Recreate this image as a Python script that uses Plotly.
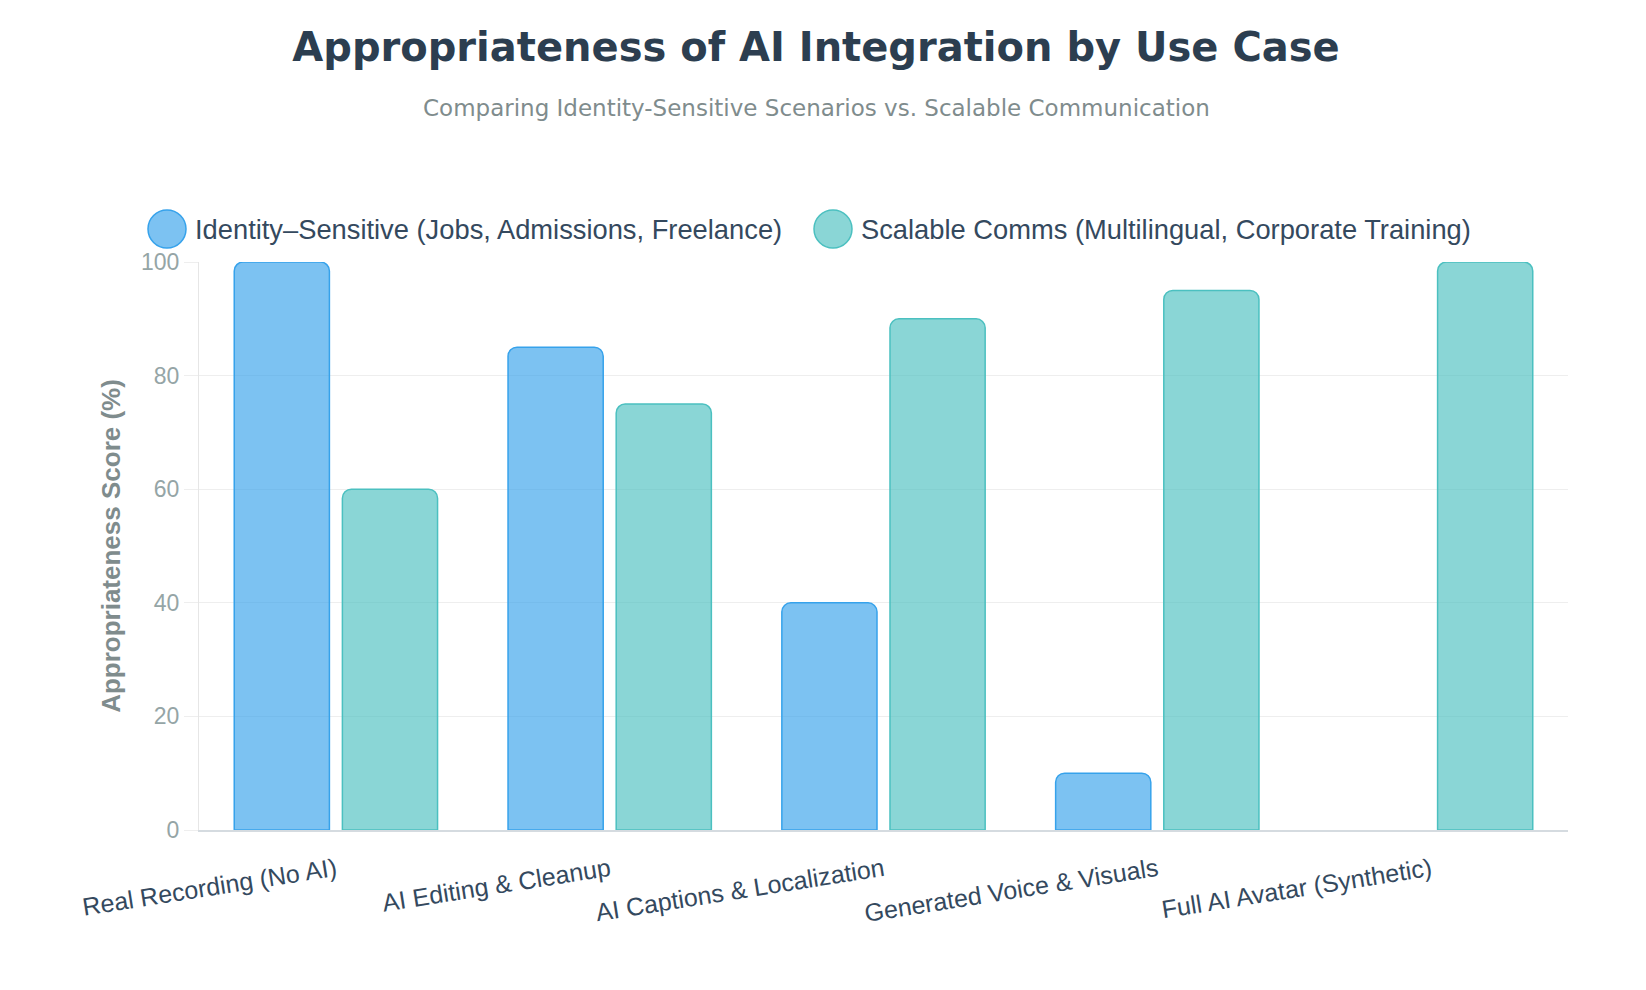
import plotly.graph_objects as go

use_cases = ["Real Recording (No AI)", "AI Editing & Cleanup", "AI Captions & Localization",
             "Generated Voice & Visuals", "Full AI Avatar (Synthetic)"]
identity_scores = [100, 85, 40, 10, 0]
scalable_scores = [60, 75, 90, 95, 100]
series_names = ["Identity–Sensitive (Jobs, Admissions, Freelance)",
                "Scalable Comms (Multilingual, Corporate Training)"]
y_ticks = [0, 20, 40, 60, 80, 100]

fills = ["rgba(54, 162, 235, 0.65)", "rgba(75, 192, 192, 0.65)"]
borders = ["rgba(54, 162, 235, 1)", "rgba(75, 192, 192, 1)"]

W, H = 1646, 990
ML, MR, MT, MB = 191, 86, 254, 168
pw, ph = W - ML - MR, H - MT - MB


def px_x(x):
    # figure pixel -> paper x
    return (x - ML) / pw


def px_y(y):
    # figure pixel (from top) -> paper y
    return 1 + (MT - y) / ph


fig = go.Figure()

for name, vals, fc, bc in zip(series_names, [identity_scores, scalable_scores], fills, borders):
    fig.add_trace(go.Bar(x=use_cases, y=vals, name=name, showlegend=False,
                         marker=dict(color=fc, cornerradius=9,
                                     line=dict(color=bc, width=[1.5 if v > 0 else 0 for v in vals]))))

# legend drawn by hand: big round swatches like the original
legend_items = [(159, 185), (825, 851)]
shapes = []
annotations = []
for (cx, tx), name, fc, bc in zip(legend_items, series_names, fills, borders):
    shapes.append(dict(type="circle", xref="paper", yref="paper",
                       xsizemode="pixel", ysizemode="pixel",
                       xanchor=px_x(cx), yanchor=px_y(221),
                       x0=-19, x1=19, y0=-19, y1=19,
                       fillcolor=fc, line=dict(color=bc, width=1.5)))
    annotations.append(dict(text=name, xref="paper", yref="paper",
                            x=px_x(tx), y=px_y(221), xanchor="left", yanchor="middle",
                            showarrow=False, font=dict(size=27.3, color="#34495e")))

annotations.append(dict(text="Comparing Identity-Sensitive Scenarios vs. Scalable Communication",
                        xref="paper", yref="paper", x=px_x(808), y=px_y(100), showarrow=False,
                        xanchor="center", yanchor="middle",
                        font=dict(family="DejaVu Sans, sans-serif", size=23, color="#7f8c8d")))

fig.update_layout(
    width=W, height=H,
    paper_bgcolor="white", plot_bgcolor="white",
    font=dict(family="Liberation Sans, Arial, sans-serif", color="#34495e"),
    title=dict(text="<b>Appropriateness of AI Integration by Use Case</b>",
               x=808 / W, xanchor="center", y=1 - 39 / H, yanchor="middle",
               font=dict(family="DejaVu Sans, sans-serif", size=40, color="#2c3e50")),
    margin=dict(l=ML, r=MR, t=MT, b=MB),
    barmode="group", bargap=0.21, bargroupgap=0.12,
    showlegend=False,
    shapes=shapes,
    annotations=annotations,
)

fig.update_xaxes(tickangle=-9, tickfont=dict(size=25, color="#34495e"),
                 showline=True, linecolor="#d5dbe0", linewidth=1.5,
                 showgrid=False, ticks="outside", ticklen=14, tickcolor="rgba(0,0,0,0)")

fig.update_yaxes(range=[0, 100], tickvals=y_ticks, tickfont=dict(size=23, color="#95a5a6"),
                 title=dict(text="<b>Appropriateness Score (%)</b>",
                            font=dict(size=26, color="#7f8c8d"), standoff=12),
                 showgrid=True, gridcolor="#eeeeee", gridwidth=1,
                 showline=True, linecolor="#e6e6e6", linewidth=1,
                 ticks="outside", ticklen=14, tickcolor="#eeeeee",
                 zeroline=False)

fig.write_html("out.html")
